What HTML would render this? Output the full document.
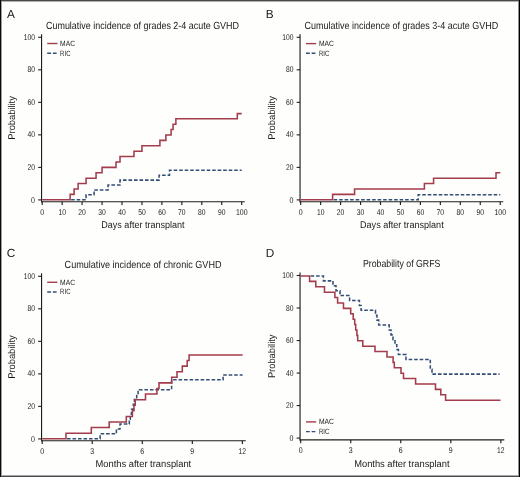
<!DOCTYPE html>
<html><head><meta charset="utf-8"><style>
html,body{margin:0;padding:0;background:#fefefc;}
svg{display:block;will-change:transform;}
text{font-family:"Liberation Sans", sans-serif;text-rendering:geometricPrecision;}
</style></head><body>
<svg width="520" height="477" viewBox="0 0 520 477" font-family='"Liberation Sans", sans-serif' fill="#1a1a1a">
<rect x="0" y="0" width="520" height="477" fill="#fefefc"/>
<path d="M41.55,34.3 V202.29999999999998" stroke="#1e1e1e" stroke-width="1.15" fill="none"/>
<path d="M41.0,201.7 H244.8" stroke="#1e1e1e" stroke-width="1.15" fill="none"/>
<path d="M38.15,199.90 H41.55" stroke="#1e1e1e" stroke-width="1.1" fill="none"/>
<text x="34.95" y="202.50" font-size="8.3" text-anchor="end" textLength="3.9" lengthAdjust="spacingAndGlyphs">0</text>
<path d="M38.15,167.38 H41.55" stroke="#1e1e1e" stroke-width="1.1" fill="none"/>
<text x="34.95" y="169.98" font-size="8.3" text-anchor="end" textLength="7.5" lengthAdjust="spacingAndGlyphs">20</text>
<path d="M38.15,134.86 H41.55" stroke="#1e1e1e" stroke-width="1.1" fill="none"/>
<text x="34.95" y="137.46" font-size="8.3" text-anchor="end" textLength="7.5" lengthAdjust="spacingAndGlyphs">40</text>
<path d="M38.15,102.34 H41.55" stroke="#1e1e1e" stroke-width="1.1" fill="none"/>
<text x="34.95" y="104.94" font-size="8.3" text-anchor="end" textLength="7.5" lengthAdjust="spacingAndGlyphs">60</text>
<path d="M38.15,69.82 H41.55" stroke="#1e1e1e" stroke-width="1.1" fill="none"/>
<text x="34.95" y="72.42" font-size="8.3" text-anchor="end" textLength="7.5" lengthAdjust="spacingAndGlyphs">80</text>
<path d="M38.15,37.30 H41.55" stroke="#1e1e1e" stroke-width="1.1" fill="none"/>
<text x="34.95" y="39.90" font-size="8.3" text-anchor="end" textLength="11.2" lengthAdjust="spacingAndGlyphs">100</text>
<path d="M42.20,201.7 V205.0" stroke="#1e1e1e" stroke-width="1.15" fill="none"/>
<text x="42.20" y="214.90" font-size="8.3" text-anchor="middle" textLength="3.9" lengthAdjust="spacingAndGlyphs">0</text>
<path d="M62.15,201.7 V205.0" stroke="#1e1e1e" stroke-width="1.15" fill="none"/>
<text x="62.15" y="214.90" font-size="8.3" text-anchor="middle" textLength="7.5" lengthAdjust="spacingAndGlyphs">10</text>
<path d="M82.10,201.7 V205.0" stroke="#1e1e1e" stroke-width="1.15" fill="none"/>
<text x="82.10" y="214.90" font-size="8.3" text-anchor="middle" textLength="7.5" lengthAdjust="spacingAndGlyphs">20</text>
<path d="M102.05,201.7 V205.0" stroke="#1e1e1e" stroke-width="1.15" fill="none"/>
<text x="102.05" y="214.90" font-size="8.3" text-anchor="middle" textLength="7.5" lengthAdjust="spacingAndGlyphs">30</text>
<path d="M122.00,201.7 V205.0" stroke="#1e1e1e" stroke-width="1.15" fill="none"/>
<text x="122.00" y="214.90" font-size="8.3" text-anchor="middle" textLength="7.5" lengthAdjust="spacingAndGlyphs">40</text>
<path d="M141.95,201.7 V205.0" stroke="#1e1e1e" stroke-width="1.15" fill="none"/>
<text x="141.95" y="214.90" font-size="8.3" text-anchor="middle" textLength="7.5" lengthAdjust="spacingAndGlyphs">50</text>
<path d="M161.90,201.7 V205.0" stroke="#1e1e1e" stroke-width="1.15" fill="none"/>
<text x="161.90" y="214.90" font-size="8.3" text-anchor="middle" textLength="7.5" lengthAdjust="spacingAndGlyphs">60</text>
<path d="M181.85,201.7 V205.0" stroke="#1e1e1e" stroke-width="1.15" fill="none"/>
<text x="181.85" y="214.90" font-size="8.3" text-anchor="middle" textLength="7.5" lengthAdjust="spacingAndGlyphs">70</text>
<path d="M201.80,201.7 V205.0" stroke="#1e1e1e" stroke-width="1.15" fill="none"/>
<text x="201.80" y="214.90" font-size="8.3" text-anchor="middle" textLength="7.5" lengthAdjust="spacingAndGlyphs">80</text>
<path d="M221.75,201.7 V205.0" stroke="#1e1e1e" stroke-width="1.15" fill="none"/>
<text x="221.75" y="214.90" font-size="8.3" text-anchor="middle" textLength="7.5" lengthAdjust="spacingAndGlyphs">90</text>
<path d="M241.70,201.7 V205.0" stroke="#1e1e1e" stroke-width="1.15" fill="none"/>
<text x="241.70" y="214.90" font-size="8.3" text-anchor="middle" textLength="11.6" lengthAdjust="spacingAndGlyphs">100</text>
<path d="M300.05,34.3 V202.29999999999998" stroke="#1e1e1e" stroke-width="1.15" fill="none"/>
<path d="M299.5,201.7 H503.3" stroke="#1e1e1e" stroke-width="1.15" fill="none"/>
<path d="M296.65000000000003,199.90 H300.05" stroke="#1e1e1e" stroke-width="1.1" fill="none"/>
<text x="293.45" y="202.50" font-size="8.3" text-anchor="end" textLength="3.9" lengthAdjust="spacingAndGlyphs">0</text>
<path d="M296.65000000000003,167.38 H300.05" stroke="#1e1e1e" stroke-width="1.1" fill="none"/>
<text x="293.45" y="169.98" font-size="8.3" text-anchor="end" textLength="7.5" lengthAdjust="spacingAndGlyphs">20</text>
<path d="M296.65000000000003,134.86 H300.05" stroke="#1e1e1e" stroke-width="1.1" fill="none"/>
<text x="293.45" y="137.46" font-size="8.3" text-anchor="end" textLength="7.5" lengthAdjust="spacingAndGlyphs">40</text>
<path d="M296.65000000000003,102.34 H300.05" stroke="#1e1e1e" stroke-width="1.1" fill="none"/>
<text x="293.45" y="104.94" font-size="8.3" text-anchor="end" textLength="7.5" lengthAdjust="spacingAndGlyphs">60</text>
<path d="M296.65000000000003,69.82 H300.05" stroke="#1e1e1e" stroke-width="1.1" fill="none"/>
<text x="293.45" y="72.42" font-size="8.3" text-anchor="end" textLength="7.5" lengthAdjust="spacingAndGlyphs">80</text>
<path d="M296.65000000000003,37.30 H300.05" stroke="#1e1e1e" stroke-width="1.1" fill="none"/>
<text x="293.45" y="39.90" font-size="8.3" text-anchor="end" textLength="11.2" lengthAdjust="spacingAndGlyphs">100</text>
<path d="M300.70,201.7 V205.0" stroke="#1e1e1e" stroke-width="1.15" fill="none"/>
<text x="300.70" y="214.90" font-size="8.3" text-anchor="middle" textLength="3.9" lengthAdjust="spacingAndGlyphs">0</text>
<path d="M320.65,201.7 V205.0" stroke="#1e1e1e" stroke-width="1.15" fill="none"/>
<text x="320.65" y="214.90" font-size="8.3" text-anchor="middle" textLength="7.5" lengthAdjust="spacingAndGlyphs">10</text>
<path d="M340.60,201.7 V205.0" stroke="#1e1e1e" stroke-width="1.15" fill="none"/>
<text x="340.60" y="214.90" font-size="8.3" text-anchor="middle" textLength="7.5" lengthAdjust="spacingAndGlyphs">20</text>
<path d="M360.55,201.7 V205.0" stroke="#1e1e1e" stroke-width="1.15" fill="none"/>
<text x="360.55" y="214.90" font-size="8.3" text-anchor="middle" textLength="7.5" lengthAdjust="spacingAndGlyphs">30</text>
<path d="M380.50,201.7 V205.0" stroke="#1e1e1e" stroke-width="1.15" fill="none"/>
<text x="380.50" y="214.90" font-size="8.3" text-anchor="middle" textLength="7.5" lengthAdjust="spacingAndGlyphs">40</text>
<path d="M400.45,201.7 V205.0" stroke="#1e1e1e" stroke-width="1.15" fill="none"/>
<text x="400.45" y="214.90" font-size="8.3" text-anchor="middle" textLength="7.5" lengthAdjust="spacingAndGlyphs">50</text>
<path d="M420.40,201.7 V205.0" stroke="#1e1e1e" stroke-width="1.15" fill="none"/>
<text x="420.40" y="214.90" font-size="8.3" text-anchor="middle" textLength="7.5" lengthAdjust="spacingAndGlyphs">60</text>
<path d="M440.35,201.7 V205.0" stroke="#1e1e1e" stroke-width="1.15" fill="none"/>
<text x="440.35" y="214.90" font-size="8.3" text-anchor="middle" textLength="7.5" lengthAdjust="spacingAndGlyphs">70</text>
<path d="M460.30,201.7 V205.0" stroke="#1e1e1e" stroke-width="1.15" fill="none"/>
<text x="460.30" y="214.90" font-size="8.3" text-anchor="middle" textLength="7.5" lengthAdjust="spacingAndGlyphs">80</text>
<path d="M480.25,201.7 V205.0" stroke="#1e1e1e" stroke-width="1.15" fill="none"/>
<text x="480.25" y="214.90" font-size="8.3" text-anchor="middle" textLength="7.5" lengthAdjust="spacingAndGlyphs">90</text>
<path d="M500.20,201.7 V205.0" stroke="#1e1e1e" stroke-width="1.15" fill="none"/>
<text x="500.20" y="214.90" font-size="8.3" text-anchor="middle" textLength="11.6" lengthAdjust="spacingAndGlyphs">100</text>
<path d="M41.55,273.3 V441.3" stroke="#1e1e1e" stroke-width="1.15" fill="none"/>
<path d="M41.0,440.7 H245.8" stroke="#1e1e1e" stroke-width="1.15" fill="none"/>
<path d="M38.15,438.90 H41.55" stroke="#1e1e1e" stroke-width="1.1" fill="none"/>
<text x="34.95" y="441.50" font-size="8.3" text-anchor="end" textLength="3.9" lengthAdjust="spacingAndGlyphs">0</text>
<path d="M38.15,406.38 H41.55" stroke="#1e1e1e" stroke-width="1.1" fill="none"/>
<text x="34.95" y="408.98" font-size="8.3" text-anchor="end" textLength="7.5" lengthAdjust="spacingAndGlyphs">20</text>
<path d="M38.15,373.86 H41.55" stroke="#1e1e1e" stroke-width="1.1" fill="none"/>
<text x="34.95" y="376.46" font-size="8.3" text-anchor="end" textLength="7.5" lengthAdjust="spacingAndGlyphs">40</text>
<path d="M38.15,341.34 H41.55" stroke="#1e1e1e" stroke-width="1.1" fill="none"/>
<text x="34.95" y="343.94" font-size="8.3" text-anchor="end" textLength="7.5" lengthAdjust="spacingAndGlyphs">60</text>
<path d="M38.15,308.82 H41.55" stroke="#1e1e1e" stroke-width="1.1" fill="none"/>
<text x="34.95" y="311.42" font-size="8.3" text-anchor="end" textLength="7.5" lengthAdjust="spacingAndGlyphs">80</text>
<path d="M38.15,276.30 H41.55" stroke="#1e1e1e" stroke-width="1.1" fill="none"/>
<text x="34.95" y="278.90" font-size="8.3" text-anchor="end" textLength="11.2" lengthAdjust="spacingAndGlyphs">100</text>
<path d="M42.20,440.7 V444.0" stroke="#1e1e1e" stroke-width="1.15" fill="none"/>
<text x="42.20" y="453.90" font-size="8.3" text-anchor="middle" textLength="3.9" lengthAdjust="spacingAndGlyphs">0</text>
<path d="M92.24,440.7 V444.0" stroke="#1e1e1e" stroke-width="1.15" fill="none"/>
<text x="92.24" y="453.90" font-size="8.3" text-anchor="middle" textLength="3.9" lengthAdjust="spacingAndGlyphs">3</text>
<path d="M142.28,440.7 V444.0" stroke="#1e1e1e" stroke-width="1.15" fill="none"/>
<text x="142.28" y="453.90" font-size="8.3" text-anchor="middle" textLength="3.9" lengthAdjust="spacingAndGlyphs">6</text>
<path d="M192.32,440.7 V444.0" stroke="#1e1e1e" stroke-width="1.15" fill="none"/>
<text x="192.32" y="453.90" font-size="8.3" text-anchor="middle" textLength="3.9" lengthAdjust="spacingAndGlyphs">9</text>
<path d="M242.36,440.7 V444.0" stroke="#1e1e1e" stroke-width="1.15" fill="none"/>
<text x="242.36" y="453.90" font-size="8.3" text-anchor="middle" textLength="7.5" lengthAdjust="spacingAndGlyphs">12</text>
<path d="M300.05,272.5 V440.5" stroke="#1e1e1e" stroke-width="1.15" fill="none"/>
<path d="M299.5,439.9 H504.3" stroke="#1e1e1e" stroke-width="1.15" fill="none"/>
<path d="M296.65000000000003,438.10 H300.05" stroke="#1e1e1e" stroke-width="1.1" fill="none"/>
<text x="293.45" y="440.70" font-size="8.3" text-anchor="end" textLength="3.9" lengthAdjust="spacingAndGlyphs">0</text>
<path d="M296.65000000000003,405.58 H300.05" stroke="#1e1e1e" stroke-width="1.1" fill="none"/>
<text x="293.45" y="408.18" font-size="8.3" text-anchor="end" textLength="7.5" lengthAdjust="spacingAndGlyphs">20</text>
<path d="M296.65000000000003,373.06 H300.05" stroke="#1e1e1e" stroke-width="1.1" fill="none"/>
<text x="293.45" y="375.66" font-size="8.3" text-anchor="end" textLength="7.5" lengthAdjust="spacingAndGlyphs">40</text>
<path d="M296.65000000000003,340.54 H300.05" stroke="#1e1e1e" stroke-width="1.1" fill="none"/>
<text x="293.45" y="343.14" font-size="8.3" text-anchor="end" textLength="7.5" lengthAdjust="spacingAndGlyphs">60</text>
<path d="M296.65000000000003,308.02 H300.05" stroke="#1e1e1e" stroke-width="1.1" fill="none"/>
<text x="293.45" y="310.62" font-size="8.3" text-anchor="end" textLength="7.5" lengthAdjust="spacingAndGlyphs">80</text>
<path d="M296.65000000000003,275.50 H300.05" stroke="#1e1e1e" stroke-width="1.1" fill="none"/>
<text x="293.45" y="278.10" font-size="8.3" text-anchor="end" textLength="11.2" lengthAdjust="spacingAndGlyphs">100</text>
<path d="M300.70,439.9 V443.2" stroke="#1e1e1e" stroke-width="1.15" fill="none"/>
<text x="300.70" y="453.10" font-size="8.3" text-anchor="middle" textLength="3.9" lengthAdjust="spacingAndGlyphs">0</text>
<path d="M350.74,439.9 V443.2" stroke="#1e1e1e" stroke-width="1.15" fill="none"/>
<text x="350.74" y="453.10" font-size="8.3" text-anchor="middle" textLength="3.9" lengthAdjust="spacingAndGlyphs">3</text>
<path d="M400.78,439.9 V443.2" stroke="#1e1e1e" stroke-width="1.15" fill="none"/>
<text x="400.78" y="453.10" font-size="8.3" text-anchor="middle" textLength="3.9" lengthAdjust="spacingAndGlyphs">6</text>
<path d="M450.82,439.9 V443.2" stroke="#1e1e1e" stroke-width="1.15" fill="none"/>
<text x="450.82" y="453.10" font-size="8.3" text-anchor="middle" textLength="3.9" lengthAdjust="spacingAndGlyphs">9</text>
<path d="M500.86,439.9 V443.2" stroke="#1e1e1e" stroke-width="1.15" fill="none"/>
<text x="500.86" y="453.10" font-size="8.3" text-anchor="middle" textLength="7.5" lengthAdjust="spacingAndGlyphs">12</text>
<text x="7.00" y="17.50" font-size="11.8" text-anchor="start">A</text>
<text x="265.80" y="17.50" font-size="11.8" text-anchor="start">B</text>
<text x="6.80" y="256.70" font-size="11.8" text-anchor="start">C</text>
<text x="265.80" y="256.70" font-size="11.8" text-anchor="start">D</text>
<text x="46.00" y="28.60" font-size="10.3" text-anchor="start" textLength="193.0" lengthAdjust="spacingAndGlyphs">Cumulative incidence of grades 2-4 acute GVHD</text>
<text x="304.60" y="28.60" font-size="10.3" text-anchor="start" textLength="193.6" lengthAdjust="spacingAndGlyphs">Cumulative incidence of grades 3-4 acute GVHD</text>
<text x="64.60" y="267.80" font-size="10.3" text-anchor="start" textLength="156.9" lengthAdjust="spacingAndGlyphs">Cumulative incidence of chronic GVHD</text>
<text x="362.90" y="267.20" font-size="10.3" text-anchor="start" textLength="77.5" lengthAdjust="spacingAndGlyphs">Probability of GRFS</text>
<text x="101.30" y="228.20" font-size="9.8" text-anchor="start" textLength="83.3" lengthAdjust="spacingAndGlyphs">Days after transplant</text>
<text x="360.00" y="228.30" font-size="9.8" text-anchor="start" textLength="83.7" lengthAdjust="spacingAndGlyphs">Days after transplant</text>
<text x="95.50" y="467.20" font-size="9.8" text-anchor="start" textLength="95.7" lengthAdjust="spacingAndGlyphs">Months after transplant</text>
<text x="354.20" y="466.60" font-size="9.8" text-anchor="start" textLength="95.4" lengthAdjust="spacingAndGlyphs">Months after transplant</text>
<text x="15.40" y="139.70" font-size="9.8" text-anchor="start" textLength="43.6" lengthAdjust="spacingAndGlyphs" transform="rotate(-90 15.4 139.7)">Probability</text>
<text x="274.70" y="139.70" font-size="9.8" text-anchor="start" textLength="43.6" lengthAdjust="spacingAndGlyphs" transform="rotate(-90 274.7 139.7)">Probability</text>
<text x="15.40" y="378.80" font-size="9.8" text-anchor="start" textLength="43.6" lengthAdjust="spacingAndGlyphs" transform="rotate(-90 15.4 378.8)">Probability</text>
<text x="274.60" y="378.10" font-size="9.8" text-anchor="start" textLength="43.6" lengthAdjust="spacingAndGlyphs" transform="rotate(-90 274.6 378.1)">Probability</text>
<path d="M47.20,43.50 H57.40" stroke="#a33c4c" stroke-width="1.4"/>
<path d="M47.20,53.20 H56.60" stroke="#344e76" stroke-width="1.4" stroke-dasharray="3.8,1.8"/>
<text x="60.10" y="46.00" font-size="7.7" text-anchor="start" textLength="15.0" lengthAdjust="spacingAndGlyphs">MAC</text>
<text x="60.10" y="55.60" font-size="7.7" text-anchor="start" textLength="10.4" lengthAdjust="spacingAndGlyphs">RIC</text>
<path d="M306.00,43.60 H316.20" stroke="#a33c4c" stroke-width="1.4"/>
<path d="M306.00,53.30 H315.40" stroke="#344e76" stroke-width="1.4" stroke-dasharray="3.8,1.8"/>
<text x="318.90" y="46.10" font-size="7.7" text-anchor="start" textLength="15.0" lengthAdjust="spacingAndGlyphs">MAC</text>
<text x="318.90" y="55.70" font-size="7.7" text-anchor="start" textLength="10.4" lengthAdjust="spacingAndGlyphs">RIC</text>
<path d="M47.20,282.30 H57.40" stroke="#a33c4c" stroke-width="1.4"/>
<path d="M47.20,292.00 H56.60" stroke="#344e76" stroke-width="1.4" stroke-dasharray="3.8,1.8"/>
<text x="60.10" y="284.80" font-size="7.7" text-anchor="start" textLength="15.0" lengthAdjust="spacingAndGlyphs">MAC</text>
<text x="60.10" y="294.40" font-size="7.7" text-anchor="start" textLength="10.4" lengthAdjust="spacingAndGlyphs">RIC</text>
<path d="M306.00,421.90 H316.20" stroke="#a33c4c" stroke-width="1.4"/>
<path d="M306.00,431.60 H315.40" stroke="#344e76" stroke-width="1.4" stroke-dasharray="3.8,1.8"/>
<text x="318.90" y="424.40" font-size="7.7" text-anchor="start" textLength="15.0" lengthAdjust="spacingAndGlyphs">MAC</text>
<text x="318.90" y="434.00" font-size="7.7" text-anchor="start" textLength="10.4" lengthAdjust="spacingAndGlyphs">RIC</text>
<path d="M71.13,199.75 H86.09 V194.84 H94.07 V189.93 H108.04 V185.02 H120.01 V180.11 H159.11 V175.20 H169.48 V170.30 H241.70" stroke="#344e76" stroke-width="1.55" fill="none" stroke-linejoin="miter" stroke-linecap="butt" stroke-dasharray="3.6,1.9"/>
<path d="M42.20,199.75 H70.13 V194.35 H74.12 V188.95 H78.11 V183.55 H86.09 V178.15 H96.06 V172.75 H102.05 V167.35 H116.02 V161.95 H120.01 V156.55 H133.97 V151.15 H141.95 V145.75 H159.91 V140.35 H165.89 V134.95 H171.08 V129.55 H173.07 V124.15 H175.87 V118.75 H237.31 V113.62 H241.70" stroke="#a33c4c" stroke-width="1.55" fill="none" stroke-linejoin="miter" stroke-linecap="butt"/>
<path d="M333.62,199.75 H418.21 V194.84 H500.30" stroke="#344e76" stroke-width="1.55" fill="none" stroke-linejoin="miter" stroke-linecap="butt" stroke-dasharray="3.6,1.9"/>
<path d="M300.70,199.75 H332.62 V194.35 H354.56 V188.95 H424.39 V183.55 H433.57 V178.15 H496.01 V172.75 H500.30" stroke="#a33c4c" stroke-width="1.55" fill="none" stroke-linejoin="miter" stroke-linecap="butt"/>
<path d="M67.00,438.75 H100.10 V433.84 H116.40 V428.93 H120.00 V424.02 H129.30 V419.11 H130.30 V414.20 H131.50 V409.30 H133.30 V404.39 H134.40 V399.48 H136.70 V394.57 H138.10 V389.66 H171.60 V379.84 H223.10 V374.93 H242.60" stroke="#344e76" stroke-width="1.55" fill="none" stroke-linejoin="miter" stroke-linecap="butt" stroke-dasharray="3.6,1.9"/>
<path d="M42.20,438.75 H66.00 V433.16 H91.30 V427.58 H109.20 V421.99 H126.30 V416.41 H132.40 V410.82 H134.00 V405.23 H135.20 V399.65 H145.50 V394.06 H156.90 V388.47 H159.00 V382.89 H171.70 V377.30 H177.00 V371.72 H182.30 V366.13 H187.20 V360.54 H189.10 V354.96 H242.60" stroke="#a33c4c" stroke-width="1.55" fill="none" stroke-linejoin="miter" stroke-linecap="butt"/>
<path d="M310.60,275.95 H323.40 V280.86 H333.00 V285.77 H336.00 V290.68 H340.00 V295.59 H349.60 V300.50 H359.40 V305.40 H361.10 V310.31 H375.50 V315.22 H377.00 V320.13 H378.70 V325.04 H389.20 V329.95 H391.00 V334.86 H393.00 V339.77 H395.00 V344.68 H396.80 V349.59 H398.40 V354.50 H406.00 V359.40 H430.30 V369.22 H432.00 V374.13 H499.60" stroke="#344e76" stroke-width="1.55" fill="none" stroke-linejoin="miter" stroke-linecap="butt" stroke-dasharray="3.6,1.9"/>
<path d="M300.70,275.95 H309.60 V281.35 H315.80 V286.75 H324.50 V292.15 H334.90 V297.55 H337.60 V302.95 H343.50 V308.35 H350.70 V313.75 H353.20 V319.15 H354.70 V324.55 H355.70 V329.95 H356.90 V335.35 H357.70 V340.75 H362.80 V346.15 H375.00 V351.55 H387.00 V356.95 H393.10 V362.35 H394.30 V367.75 H401.00 V373.15 H403.50 V378.55 H415.60 V383.95 H435.50 V389.35 H440.80 V394.75 H445.60 V400.15 H500.50" stroke="#a33c4c" stroke-width="1.55" fill="none" stroke-linejoin="miter" stroke-linecap="butt"/>
<g shape-rendering="crispEdges">
<rect x="0" y="1" width="520" height="1" fill="#b0b0b0"/>
<rect x="0" y="475" width="520" height="1" fill="#a8a8a8"/>
<rect x="1" y="0" width="1" height="477" fill="#a0a0a0"/>
<rect x="518" y="0" width="1" height="477" fill="#909090"/>
<rect x="0" y="0" width="520" height="1" fill="#4a4a4a"/>
<rect x="0" y="476" width="520" height="1" fill="#4a4a4a"/>
<rect x="0" y="0" width="1" height="477" fill="#0a0a0a"/>
<rect x="519" y="0" width="1" height="477" fill="#000"/>
</g>
</svg>
</body></html>
